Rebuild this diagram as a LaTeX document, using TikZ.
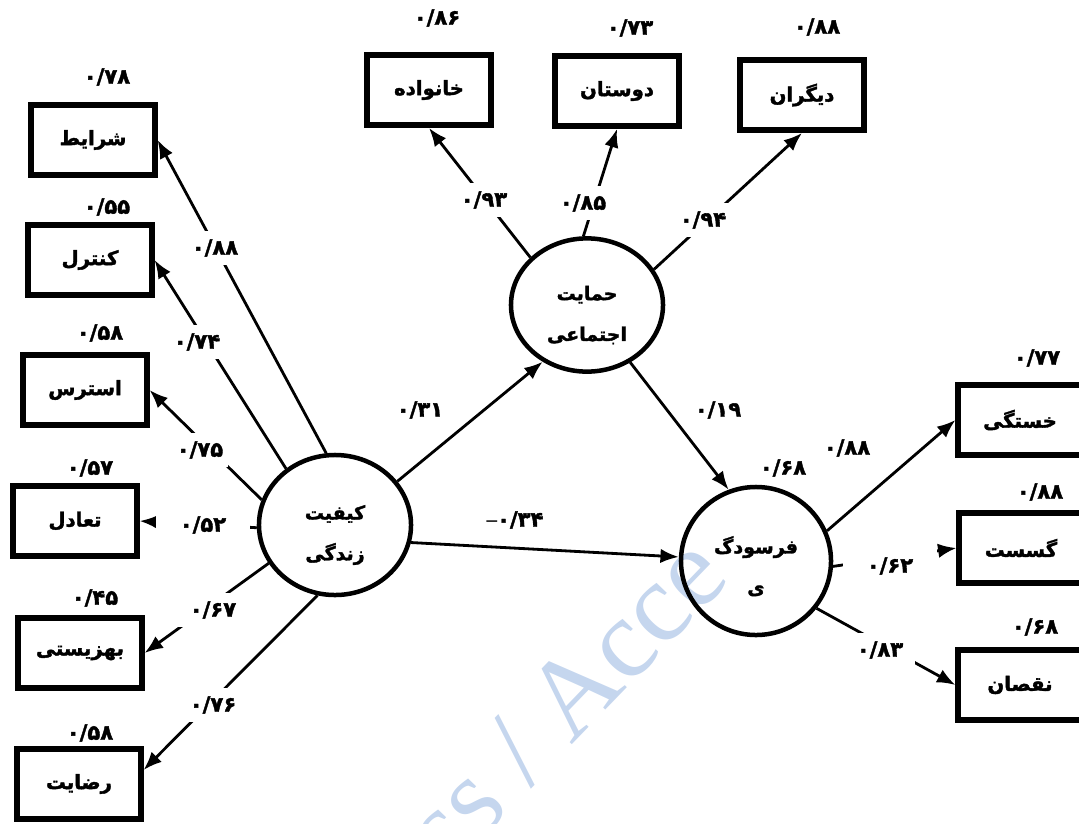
\documentclass[tikz,border=0pt]{standalone}
\usepackage{fontspec}
\TeXXeTstate=1
\newfontfamily\farsi[Script=Arabic,BoldFeatures={FakeBold=1.8}]{DejaVu Sans}
\setmainfont{Liberation Serif}
\usetikzlibrary{shapes.geometric,arrows.meta}

% persian word, right to left
\newcommand{\fatext}[1]{\beginR #1\endR}

\definecolor{markblue}{RGB}{197,214,238}

\begin{document}
\begin{tikzpicture}[x=0.025cm,y=-0.025cm,line cap=butt,>={Latex[length=0.46cm,width=0.36cm]},
    box/.style={draw,line width=4.2pt,minimum width=3.08cm,minimum height=1.75cm,inner sep=0pt,
        font=\farsi\bfseries\fontsize{14}{16}\selectfont},
    latent/.style={ellipse,draw,line width=3.2pt,inner sep=0pt},
    intext/.style={align=center,font=\farsi\bfseries\fontsize{13.5}{15}\selectfont},
    path/.style={->,line width=2pt},
    coef/.style={fill=white,inner xsep=0.12cm,inner ysep=0.22cm,
        font=\farsi\bfseries\fontsize{15}{17}\selectfont},
    resid/.style={inner sep=1pt,font=\farsi\bfseries\fontsize{15}{17}\selectfont}]

    \useasboundingbox (0,0) rectangle (1079,823);

    % watermark
    \node[text=markblue,font=\fontsize{80}{80}\selectfont,rotate=46] (mark) at (565,700) {ss / Acce};

    % left indicators
    \node[box] (sharayet) at (93,140) {\fatext{شرایط}};
    \node[box] (kontrol) at (90,260) {\fatext{کنترل}};
    \node[box] (stres) at (85,390) {\fatext{استرس}};
    \node[box] (tadol) at (75,521) {\fatext{تعادل}};
    \node[box] (behzisti) at (80,653) {\fatext{بهزیستی}};
    \node[box] (rezayat) at (79,784) {\fatext{رضایت}};

    % top indicators
    \node[box] (khanevade) at (429,90) {\fatext{خانواده}};
    \node[box] (doostan) at (617,91) {\fatext{دوستان}};
    \node[box] (digaran) at (802,95) {\fatext{دیگران}};

    % right indicators
    \node[box] (khastegi) at (1020,420) {\fatext{خستگی}};
    \node[box] (gosast) at (1021,548) {\fatext{گسست}};
    \node[box] (noqsan) at (1020,685) {\fatext{نقصان}};

    % latent variables
    \node[latent,minimum width=3.8cm,minimum height=3.5cm,
        label={[intext,yshift=-0.25cm]center:\fatext{کیفیت}\\[14pt]\fatext{زندگی}}] (qol) at (335,525) {};
    \node[latent,minimum width=3.8cm,minimum height=3.33cm,
        label={[intext,yshift=-0.25cm]center:\fatext{حمایت}\\[14pt]\fatext{اجتماعی}}] (support) at (587,305) {};
    \node[latent,minimum width=3.75cm,minimum height=3.7cm,
        label={[intext,yshift=-0.13cm]center:\fatext{فرسودگ}\\[14pt]\fatext{ی}}] (burnout) at (756,561) {};

    % measurement paths
    \draw[path] (qol.97) -- (sharayet.east);
    \draw[path] (qol.131) -- (kontrol.east);
    \draw[path] (qol.161) -- (stres.east);
    \draw[path] (qol.182) -- (tadol.east);
    \draw[path] (qol.210) -- (behzisti.east);
    \draw[path] (qol.256) -- ([yshift=0.35cm]rezayat.east);
    \draw[path] (support.140) -- (khanevade.south);
    \draw[path] (support.93) -- (doostan.south);
    \draw[path] (support.28) -- (digaran.south);
    \draw[path] (burnout.23) -- (khastegi.west);
    \draw[path] (burnout.356) -- (gosast.west);
    \draw[path] (burnout.322) -- (noqsan.west);

    % structural paths
    \draw[path] (qol.35) -- (support.232);
    \draw[path] (qol.347) -- (burnout.177);
    \draw[path] (support.307) -- (burnout.111);

    % loadings
    \node[coef] (c1) at (215,248) {۰/۸۸};
    \node[coef] (c2) at (197,342) {۰/۷۴};
    \node[coef] (c3) at (200,450) {۰/۷۵};
    \node[coef,inner xsep=0.6cm] (c4) at (203,525) {۰/۵۲};
    \node[coef,inner xsep=0.3cm] (c5) at (213,610) {۰/۶۷};
    \node[coef] (c6) at (213,705) {۰/۷۶};
    \node[coef] (c7) at (484,200) {۰/۹۳};
    \node[coef] (c8) at (583,203) {۰/۸۵};
    \node[coef] (c9) at (703,220) {۰/۹۴};
    \node[coef,inner xsep=0.6cm] (c10) at (890,566) {۰/۶۲};
    \node[coef,inner xsep=0.3cm] (c11) at (880,650) {۰/۸۳};
    \node[resid] (c12) at (847,448) {۰/۸۸};

    % structural coefficients
    \node[resid] (b1) at (420,410) {۰/۳۱};
    \node[resid] (b2) at (515,520) {{\rmfamily\bfseries –}۰/۳۴};
    \node[resid] (b3) at (718,410) {۰/۱۹};
    \node[resid] (b4) at (783,468) {۰/۶۸};

    % residuals
    \node[resid] (r1) at (107,77) {۰/۷۸};
    \node[resid] (r2) at (107,207) {۰/۵۵};
    \node[resid] (r3) at (100,333) {۰/۵۸};
    \node[resid] (r4) at (90,468) {۰/۵۷};
    \node[resid] (r5) at (95,598) {۰/۴۵};
    \node[resid] (r6) at (90,733) {۰/۵۸};
    \node[resid] (r7) at (437,18) {۰/۸۶};
    \node[resid] (r8) at (630,28) {۰/۷۳};
    \node[resid] (r9) at (817,27) {۰/۸۸};
    \node[resid] (r10) at (1037,358) {۰/۷۷};
    \node[resid] (r11) at (1040,492) {۰/۸۸};
    \node[resid] (r12) at (1035,627) {۰/۶۸};
\end{tikzpicture}
\end{document}
